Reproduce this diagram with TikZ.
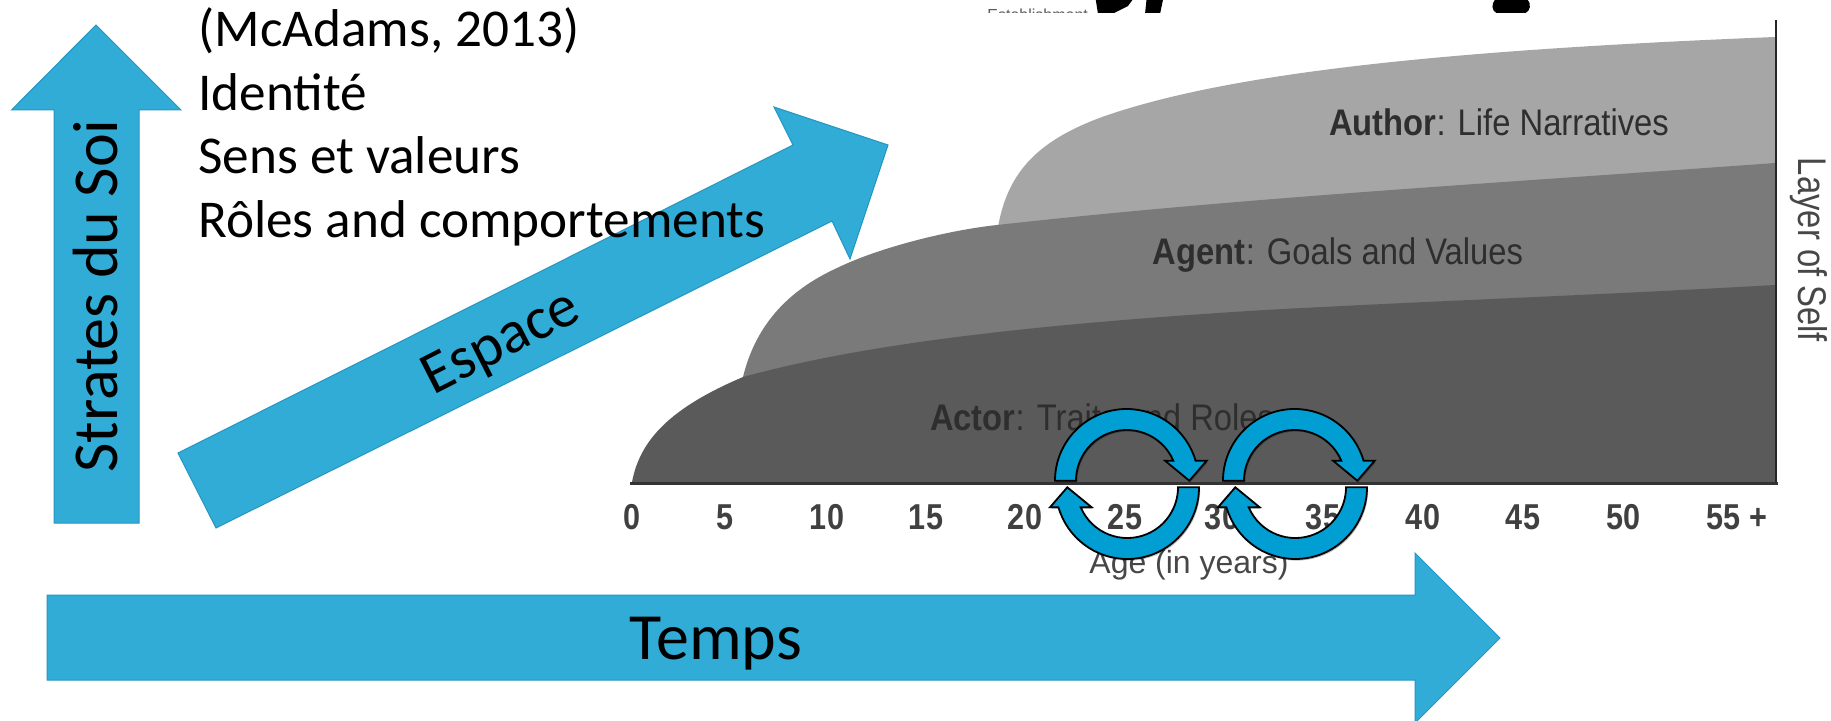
\documentclass[tikz,border=0pt]{standalone}
\usepackage{fontspec}
\setmainfont{Carlito}
\newfontfamily\mChartFont{Liberation Sans}
\usetikzlibrary{positioning}
\usetikzlibrary{shadows}
\definecolor{cbblue}{RGB}{49, 172, 215}
\definecolor{cbblueline}{RGB}{36, 150, 196}
\definecolor{cbloop}{RGB}{0, 158, 210}
\definecolor{cbauthor}{RGB}{166, 166, 166}
\definecolor{cbagent}{RGB}{122, 122, 122}
\definecolor{cbactor}{RGB}{90, 90, 90}
\newcommand{\mLabelStyle}[2]{\textbf{#1}: #2}

\begin{document}
\begin{tikzpicture}[%
    x=0.5pt, y=-0.5pt,          % One unit is one pixel of the reference, y going down
    ]
% -------------------------------------------------
% A few styles
\tikzset{
  bigarrow/.style={fill=cbblue, draw=cbblueline, line width=0.5pt, line join=miter},
  looparrow/.style={fill=cbloop, draw=black, line width=0.9pt, line join=miter,
    drop shadow={shadow xshift=0.6pt, shadow yshift=-0.8pt, opacity=0.25, fill=black}},
  listtxt/.style={font=\fontsize{26.6}{30}\selectfont, inner sep=0pt, anchor=base west},
  arrowtxt/.style={font=\fontsize{30}{34}\selectfont, inner sep=0pt, text=black},
  layertxt/.style={font=\mChartFont\fontsize{18.5}{20}\selectfont, inner sep=0pt, xscale=0.885, text=black!82},
  agetxt/.style={font=\mChartFont\bfseries\fontsize{18}{20}\selectfont, inner sep=0pt, text=black!75, xscale=0.85},
  axistxt/.style={font=\mChartFont\fontsize{16}{18}\selectfont, inner sep=0pt, text=black!72}
  }
\useasboundingbox (0,0) rectangle (1831,721);
% -------------------------------------------------
% Remains of the picture at the top
\begin{scope}
\clip (900,0) rectangle (1600,12.7);
\fill (1095,-5) -- (1136,-5) -- (1128,6) -- (1112,14) -- (1098,14) -- cycle;
\fill (1147,-5) -- (1164,-5) -- (1160,14) -- (1145,14) -- cycle;
\fill [rounded corners=6pt] (1497,-8) -- (1526,-8) -- (1533,14) -- (1489,14) -- cycle;
\node [font=\mChartFont\fontsize{8}{10}\selectfont, text=black!65, inner sep=0pt, anchor=north west] (topt) at (987,9) {Establishment};
\end{scope}
% -------------------------------------------------
% The three layers
\fill [cbauthor] (998,227) .. controls (1008,170) and (1040,140) .. (1102,117)
  .. controls (1230,72) and (1450,50) .. (1775,37)
  -- (1775,300) -- (998,300) -- cycle;
\fill [cbagent] (743,377) .. controls (758,315) and (800,285) .. (837,268)
  .. controls (880,247) and (950,230) .. (997,225)
  .. controls (1250,197) and (1500,183) .. (1775,163)
  -- (1775,400) -- (743,400) -- cycle;
\fill [cbactor] (632,482) .. controls (640,440) and (670,408) .. (743,377)
  .. controls (860,345) and (1020,325) .. (1265,310)
  .. controls (1430,301) and (1600,295) .. (1775,285)
  -- (1775,483) -- (632,483) -- cycle;
\draw [black!85, line width=1pt] (1776,20) -- (1776,483);
\draw [black!80, line width=1.5pt] (630,483) -- (1778,483);

\node [layertxt] (author) at (1499,122) {\mLabelStyle{Author}{Life Narratives}};
\node [layertxt] (agent) at (1338,255) {\mLabelStyle{Agent}{Goals and Values}};
\node [layertxt] (actor) at (1102,417) {\mLabelStyle{Actor}{Traits and Roles}};
\node [rotate=-90, xscale=0.82, axistxt, font=\mChartFont\fontsize{20}{22}\selectfont] (layer) at (1809,250) {Layer of Self};
\node [axistxt] (age) at (1189,565) {Age (in years)};

\foreach \x/\lab in {632/0, 725/5, 827/10, 926/15, 1025/20, 1125/25, 1222/30, 1323/35, 1423/40, 1523/45, 1623/50, 1737/55 +}
  \node [agetxt] (a\x) at (\x,517) {\lab};
% -------------------------------------------------
% Loops over the axis
\foreach \d in {0,168} {
  \draw [looparrow] ({1055+\d},480.7) arc [start angle=180, end angle=343.8, radius=71.7]
    -- ({1206.7+\d},460.7) -- ({1189.3+\d},480.7) -- ({1165+\d},460.7) -- ({1173.3+\d},460.7)
    arc [start angle=336.8, end angle=180, radius=50.7] -- cycle;
  \draw [looparrow] ({1199+\d},487.3) arc [start angle=0, end angle=163.8, radius=71.7]
    -- ({1050+\d},507.3) -- ({1067.3+\d},487.3) -- ({1091.7+\d},507.3) -- ({1080.7+\d},507.3)
    arc [start angle=156.8, end angle=0, radius=50.7] -- cycle;
}
% -------------------------------------------------
% Big arrows
\draw [bigarrow] (96,25) -- (181,110) -- (139,110) -- (139,523) -- (54,523) -- (54,110) -- (11.5,110) -- cycle;
\draw [bigarrow] (178,453) -- (793,145) -- (774,107) -- (888,145) -- (850,259) -- (832,221) -- (216,528) -- cycle;
\draw [bigarrow] (47,595) -- (1415,595) -- (1415,553) -- (1500,638) -- (1415,723) -- (1415,680) -- (47,680) -- cycle;

\node [arrowtxt, rotate=90, font=\fontsize{32}{36}\selectfont] (strates) at (96,296) {Strates du Soi};
\node [arrowtxt, rotate=27] (espace) at (502,344) {Espace};
\node [arrowtxt, font=\fontsize{33}{36}\selectfont] (temps) at (716,644) {Temps};
% -------------------------------------------------
% The list
\node [listtxt] (l1) at (198,46.7) {(McAdams, 2013)};
\node [listtxt, below=31.8pt of l1.base west, anchor=base west] (l2) {Identité};
\node [listtxt, below=31.8pt of l2.base west, anchor=base west] (l3) {Sens et valeurs};
\node [listtxt, below=31.8pt of l3.base west, anchor=base west] (l4) {Rôles and comportements};
\end{tikzpicture}
\end{document}
